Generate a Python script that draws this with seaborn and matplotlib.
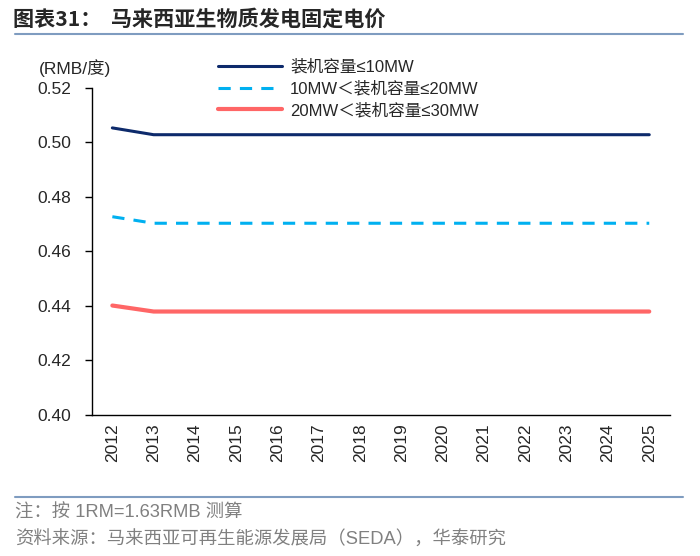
import matplotlib
matplotlib.use("Agg")
import matplotlib.pyplot as plt
import matplotlib.lines as mlines
import numpy as np
import pandas as pd
import seaborn as sns

years = list(range(2012, 2026))
tier_le10 = [0.5053] + [0.5028] * 13
tier_10_20 = [0.4727] + [0.4703] * 13
tier_20_30 = [0.4401] + [0.4379] * 13
series_names = ["装机容量≤10MW", "10MW＜装机容量≤20MW", "20MW＜装机容量≤30MW"]
y_ticks = [0.40, 0.42, 0.44, 0.46, 0.48, 0.50, 0.52]

sns.set_style("white")
plt.rcParams["font.family"] = ["Liberation Sans", "Noto Sans CJK SC", "DejaVu Sans"]

df = pd.DataFrame({
    "year": years * 3,
    "price": tier_le10 + tier_10_20 + tier_20_30,
    "series": [series_names[0]] * 14 + [series_names[1]] * 14 + [series_names[2]] * 14,
})

colors = {series_names[0]: "#0D2A6B", series_names[1]: "#00B0F0", series_names[2]: "#FF6666"}
widths = {series_names[0]: 2.2, series_names[1]: 2.2, series_names[2]: 3.0}
styles = {series_names[0]: "-", series_names[1]: (0, (4, 3)), series_names[2]: "-"}

fig = plt.figure(figsize=(7, 5.56), dpi=100)
ax = fig.add_axes([0.131, 0.254, 0.826, 0.588])

for name in series_names:
    sub = df[df["series"] == name]
    sns.lineplot(data=sub, x="year", y="price", ax=ax, color=colors[name],
                 linewidth=widths[name], linestyle=styles[name], legend=False)

ax.set_xlim(2011.5, 2025.5)
ax.set_ylim(0.40, 0.52)
ax.set_yticks(y_ticks)
ax.set_yticklabels([f"{v:.2f}" for v in y_ticks], fontsize=12.5)
ax.set_xticks(years)
ax.set_xticklabels([str(y) for y in years], rotation=90, fontsize=12.5)
ax.set_xticks(np.arange(2011.5, 2026, 1.0), minor=True)
ax.tick_params(axis="x", which="major", length=0, pad=6)
ax.tick_params(axis="x", which="minor", length=5, direction="out", width=1, color="black")
ax.tick_params(axis="y", length=5, direction="out", width=1, color="black", pad=10, left=True)
ax.set_xlabel("")
ax.set_ylabel("")
for s in ["top", "right"]:
    ax.spines[s].set_visible(False)
for s in ["left", "bottom"]:
    ax.spines[s].set_color("black")
    ax.spines[s].set_linewidth(1)

fig.text(0.055, 0.877, "(RMB/度)", fontsize=12.5, va="center")

handles = [mlines.Line2D([], [], color=colors[n], linewidth=widths[n], linestyle=styles[n])
           for n in series_names]
fig.legend(handles, series_names, loc="upper left", bbox_to_anchor=(0.30, 0.909),
           frameon=False, fontsize=12, handlelength=3.8, labelspacing=0.38,
           handletextpad=0.5, borderpad=0)

fig.text(0.018, 0.965, "图表31：  马来西亚生物质发电固定电价", fontsize=15.2,
         fontweight="bold", va="center", family=["Noto Sans CJK SC", "DejaVu Sans"])
fig.add_artist(mlines.Line2D([0.021, 0.975], [0.938, 0.938], color="#7F9CC0", linewidth=1.5))
fig.add_artist(mlines.Line2D([0.021, 0.975], [0.106, 0.106], color="#7F9CC0", linewidth=1.5))
fig.text(0.021, 0.078, "注：按 1RM=1.63RMB 测算", fontsize=13.2, color="#808080", va="center")
fig.text(0.021, 0.030, "资料来源：马来西亚可再生能源发展局（SEDA），华泰研究", fontsize=13.2,
         color="#808080", va="center")

fig.savefig("out.png", dpi=100)
